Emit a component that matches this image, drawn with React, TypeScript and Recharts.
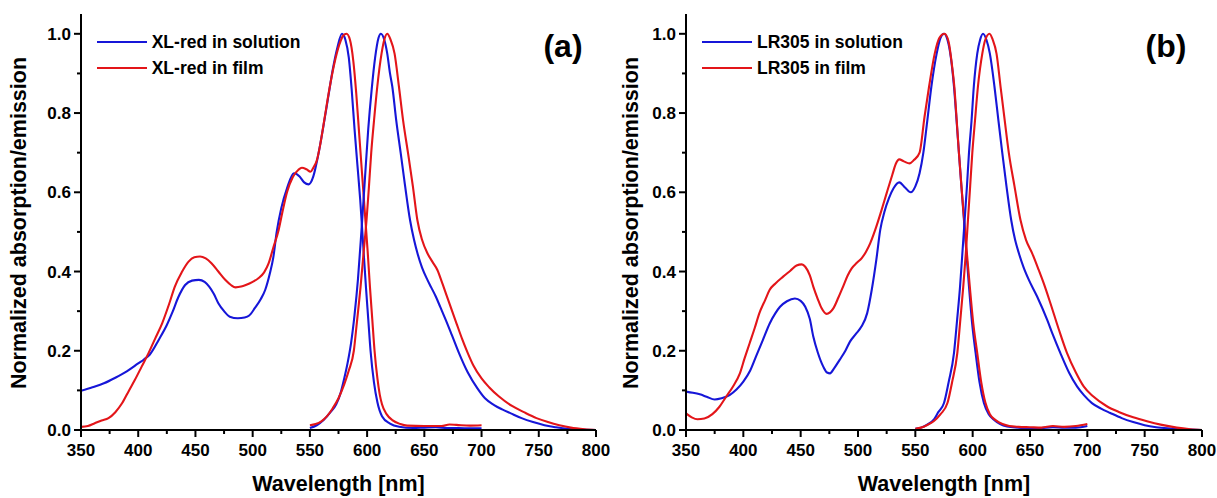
import React from 'react';
import { LineChart, Line, XAxis, YAxis, Legend } from 'recharts';

const BLUE = '#1616d8';
const RED = '#e31519';
const FONT = '"Liberation Sans", Arial, sans-serif';

const xTicks = [350, 375, 400, 425, 450, 475, 500, 525, 550, 575, 600, 625, 650, 675, 700, 725, 750, 775, 800];
const yTicks = [0, 0.1, 0.2, 0.3, 0.4, 0.5, 0.6, 0.7, 0.8, 0.9, 1.0];

const namesA = ['XL-red in solution', 'XL-red in film'];
const namesB = ['LR305 in solution', 'LR305 in film'];
const panelLabels = ['(a)', '(b)'];
const xTitle = 'Wavelength [nm]';
const yTitle = 'Normalized absorption/emission';

type P = [number, number];

// Panel (a): XL-red
const xlSolAbs: P[] = [
  [350, 0.099], [360, 0.108], [370, 0.118], [380, 0.132], [390, 0.148], [400, 0.168], [405, 0.178], [410, 0.19],
  [418, 0.228], [425, 0.265], [430, 0.298], [435, 0.335], [441, 0.366], [447, 0.377], [453, 0.379], [458, 0.374],
  [462, 0.362], [466, 0.344], [470, 0.32], [475, 0.3], [480, 0.286], [487, 0.282], [493, 0.284], [497, 0.289],
  [502, 0.308], [507, 0.33], [511, 0.354], [515, 0.395], [518, 0.435], [521, 0.5], [525, 0.56], [530, 0.61],
  [536, 0.648], [541, 0.64], [545, 0.625], [549, 0.62], [553, 0.64], [557, 0.69], [562, 0.77], [566, 0.84],
  [570, 0.91], [574, 0.965], [578, 1.0], [581, 0.985], [584, 0.94], [586.5, 0.86], [589, 0.76], [591.5, 0.67],
  [594, 0.58], [596.5, 0.47], [599, 0.36], [601, 0.28], [603, 0.2], [606, 0.12], [609, 0.07], [613, 0.035],
  [620, 0.016], [628, 0.008], [640, 0.005], [650, 0.006], [660, 0.007], [670, 0.005], [680, 0.005], [690, 0.004], [700, 0.004],
];
const xlFilmAbs: P[] = [
  [350, 0.008], [356, 0.01], [362, 0.017], [368, 0.024], [374, 0.03], [380, 0.045], [386, 0.068], [392, 0.1],
  [397, 0.126], [403, 0.16], [409, 0.194], [415, 0.232], [421, 0.27], [427, 0.318], [432, 0.362], [438, 0.398],
  [444, 0.425], [449, 0.436], [454, 0.438], [459, 0.433], [464, 0.421], [470, 0.4], [476, 0.379], [481, 0.366],
  [485, 0.36], [490, 0.362], [494, 0.366], [500, 0.374], [505, 0.383], [510, 0.398], [514, 0.421], [518, 0.46],
  [522.7, 0.505], [526, 0.55], [530, 0.6], [535, 0.638], [540, 0.657], [543, 0.662], [547, 0.658], [550.5, 0.652],
  [553, 0.662], [556, 0.68], [559, 0.72], [563, 0.79], [567, 0.86], [571, 0.92], [576, 0.975], [579, 0.995],
  [582, 1.0], [585, 0.985], [588, 0.93], [590.5, 0.85], [593, 0.75], [595.5, 0.65], [598, 0.55], [600.5, 0.45],
  [602.5, 0.36], [604.5, 0.28], [606.5, 0.2], [609, 0.13], [611, 0.09], [613, 0.065], [617, 0.04], [622, 0.025],
  [629, 0.015], [635, 0.011], [650, 0.01], [665, 0.01], [672, 0.014], [678, 0.013], [690, 0.011], [700, 0.012],
];
const xlSolEm: P[] = [
  [550, 0.005], [556, 0.012], [562, 0.025], [568, 0.045], [573, 0.065], [577, 0.095], [580, 0.13], [583, 0.17],
  [586, 0.22], [589, 0.29], [592, 0.38], [595, 0.5], [598, 0.63], [601, 0.76], [604, 0.86], [607, 0.94],
  [610, 0.99], [612, 1.0], [615, 0.985], [617.6, 0.95], [620, 0.9], [622, 0.867], [625.5, 0.78], [629.3, 0.7],
  [633, 0.62], [637.5, 0.53], [641, 0.48], [644, 0.446], [648, 0.41], [652.7, 0.379], [656, 0.36], [660, 0.337],
  [664, 0.31], [668.7, 0.278], [674, 0.24], [680.3, 0.194], [688, 0.145], [696.4, 0.105], [703, 0.08], [711, 0.063],
  [718, 0.052], [725.6, 0.042], [735, 0.03], [745, 0.02], [755, 0.012], [765, 0.007], [775, 0.003], [785, 0.001], [800, 0],
];
const xlFilmEm: P[] = [
  [550, 0.012], [555, 0.015], [560, 0.022], [565, 0.035], [570, 0.055], [575, 0.08], [580, 0.115], [584, 0.15],
  [588.4, 0.2], [591, 0.27], [594.3, 0.362], [597, 0.45], [599.5, 0.53], [601.5, 0.61], [603.6, 0.7], [606, 0.78],
  [608.9, 0.867], [612.6, 0.95], [615, 0.985], [617.6, 1.0], [620.5, 0.985], [624, 0.95], [627.8, 0.867], [631.5, 0.78],
  [635.7, 0.7], [640, 0.615], [643.9, 0.53], [648, 0.48], [652.7, 0.446], [657, 0.425], [661.4, 0.404], [666, 0.368],
  [671.6, 0.322], [678, 0.27], [683, 0.23], [687.7, 0.196], [693, 0.162], [700, 0.13], [706.6, 0.108], [715, 0.085],
  [727, 0.06], [737, 0.045], [748, 0.03], [758, 0.02], [768, 0.012], [778, 0.006], [790, 0.002], [800, 0],
];

// Panel (b): LR305
const lrSolAbs: P[] = [
  [350, 0.097], [356, 0.094], [362, 0.09], [368, 0.084], [375, 0.077], [381, 0.08], [388, 0.088], [394, 0.102],
  [400, 0.122], [406, 0.15], [411, 0.185], [417, 0.227], [423, 0.269], [428, 0.295], [432, 0.311], [438, 0.325],
  [445, 0.332], [450, 0.326], [454, 0.311], [458, 0.28], [461, 0.236], [465, 0.195], [469.7, 0.16], [473, 0.145],
  [475.6, 0.143], [479, 0.155], [484, 0.177], [489, 0.2], [493, 0.223], [498, 0.242], [503, 0.261], [508, 0.295],
  [512, 0.354], [516, 0.43], [519.4, 0.505], [523, 0.55], [527, 0.585], [531, 0.61], [536, 0.625], [541, 0.612],
  [546, 0.6], [550, 0.615], [553.7, 0.648], [557, 0.7], [560, 0.77], [564, 0.867], [568.6, 0.95], [572, 0.99],
  [575, 1.0], [578, 0.985], [581, 0.94], [583.7, 0.867], [586, 0.78], [588, 0.7], [590.2, 0.615], [592.4, 0.53],
  [594.6, 0.445], [596.8, 0.362], [599.5, 0.27], [602.6, 0.194], [606, 0.12], [609.8, 0.068], [614, 0.04], [619, 0.025],
  [624, 0.015], [630, 0.009], [640, 0.006], [650, 0.004], [660, 0.005], [670, 0.007], [680, 0.006], [690, 0.006], [700, 0.01],
];
const lrFilmAbs: P[] = [
  [350, 0.042], [355, 0.032], [360, 0.027], [366, 0.029], [373, 0.04], [379, 0.058], [385, 0.084], [391, 0.11],
  [397, 0.143], [401, 0.18], [405.5, 0.219], [410, 0.258], [414, 0.295], [419, 0.328], [423, 0.354], [428, 0.37],
  [434.7, 0.387], [441, 0.402], [446.4, 0.415], [451, 0.418], [454, 0.412], [458, 0.39], [461, 0.362], [465, 0.33],
  [468.3, 0.307], [472.6, 0.293], [475.5, 0.297], [478.5, 0.307], [483, 0.335], [487, 0.362], [491, 0.39], [494.5, 0.408],
  [499, 0.422], [503.3, 0.434], [507, 0.45], [510.6, 0.471], [515, 0.505], [520, 0.55], [525, 0.598], [530, 0.645],
  [533, 0.672], [536, 0.683], [540, 0.678], [545, 0.673], [549, 0.682], [553.7, 0.7], [558, 0.79], [562, 0.867],
  [566.9, 0.95], [571, 0.99], [575.5, 1.0], [579, 0.98], [582, 0.92], [584, 0.867], [586, 0.785], [588, 0.7],
  [590.2, 0.615], [592.6, 0.53], [595, 0.445], [597.5, 0.362], [600.5, 0.27], [604, 0.194], [607.5, 0.12], [611, 0.07],
  [615, 0.04], [620, 0.025], [626, 0.015], [632, 0.01], [640, 0.008], [650, 0.007], [660, 0.006], [670, 0.01],
  [680, 0.008], [690, 0.01], [700, 0.015],
];
const lrSolEm: P[] = [
  [550, 0.003], [555, 0.006], [560, 0.013], [566.3, 0.027], [570, 0.045], [575, 0.068], [579, 0.12], [583.7, 0.194],
  [586.5, 0.28], [589, 0.362], [591, 0.445], [593, 0.53], [595, 0.615], [596.8, 0.7], [599, 0.78], [601, 0.867],
  [604, 0.95], [606.5, 0.985], [609, 1.0], [612, 0.985], [615, 0.95], [619, 0.867], [622.5, 0.78], [625.8, 0.7],
  [629.5, 0.615], [633.6, 0.53], [637, 0.48], [640.3, 0.446], [644.5, 0.41], [649, 0.379], [656.2, 0.337], [665, 0.278],
  [670, 0.24], [676.5, 0.194], [684, 0.145], [691, 0.11], [697, 0.088], [704, 0.068], [712, 0.054], [720, 0.043],
  [730, 0.03], [740, 0.02], [750, 0.012], [760, 0.007], [770, 0.004], [780, 0.002], [790, 0.001], [800, 0],
];
const lrFilmEm: P[] = [
  [550, 0.003], [555, 0.006], [560, 0.012], [566, 0.022], [572, 0.04], [578, 0.068], [582, 0.12], [586.6, 0.194],
  [589.3, 0.28], [591.8, 0.362], [594, 0.445], [595.9, 0.53], [597.8, 0.615], [599.7, 0.7], [602, 0.78], [604.6, 0.867],
  [608.4, 0.95], [611, 0.985], [614.7, 1.0], [617.5, 0.985], [620.8, 0.95], [624.3, 0.867], [628, 0.78], [631.5, 0.7],
  [636.5, 0.615], [641.7, 0.53], [646.5, 0.48], [651.9, 0.446], [657.6, 0.404], [662, 0.37], [667.8, 0.32], [675, 0.255],
  [682.3, 0.194], [690, 0.145], [696.8, 0.11], [705, 0.085], [717, 0.06], [728, 0.045], [740, 0.032], [752, 0.022],
  [765, 0.013], [778, 0.006], [790, 0.002], [800, 0],
];

const toPts = (a: P[]) => a.map(([x, y]) => ({ x, y }));

const tickText: React.CSSProperties = { fontFamily: FONT, fontWeight: 700, fontSize: 17, fill: '#000' };

const XTick = (props: any) => {
  const { x, y, payload } = props;
  const v = payload.value as number;
  const major = v % 50 === 0;
  return (
    <g>
      <line x1={x} x2={x} y1={y} y2={y + (major ? 7 : 4)} stroke="#000" strokeWidth={2} />
      {major && (
        <text x={x} y={y + 26} textAnchor="middle" style={tickText}>
          {v}
        </text>
      )}
    </g>
  );
};

const YTick = (props: any) => {
  const { x, y, payload } = props;
  const v = payload.value as number;
  const major = Math.round(v * 10) % 2 === 0;
  return (
    <g>
      <line x1={x} x2={x - (major ? 7 : 4)} y1={y} y2={y} stroke="#000" strokeWidth={2} />
      {major && (
        <text x={x - 10} y={y + 6} textAnchor="end" style={tickText}>
          {v.toFixed(1)}
        </text>
      )}
    </g>
  );
};

const LegendBox = ({ names }: { names: string[] }) => {
  const colors = [BLUE, RED];
  return (
    <div style={{ display: 'flex', flexDirection: 'column' }}>
      {names.map((n, i) => (
        <div key={n} style={{ display: 'flex', alignItems: 'center', height: 26.6 }}>
          <svg width={50} height={6} style={{ display: 'block' }}>
            <line x1={0} x2={50} y1={3} y2={3} stroke={colors[i]} strokeWidth={2.2} />
          </svg>
          <span
            style={{
              marginLeft: 5,
              fontFamily: FONT,
              fontWeight: 700,
              fontSize: 17.5,
              color: '#000',
              whiteSpace: 'nowrap',
              lineHeight: '20px',
            }}
          >
            {n}
          </span>
        </div>
      ))}
    </div>
  );
};

type PanelProps = {
  width: number;
  left: number;
  yAxisWidth: number;
  right: number;
  names: string[];
  solAbs: P[];
  filmAbs: P[];
  solEm: P[];
  filmEm: P[];
  legendLeft: number;
};

const lineCommon = { type: 'monotone' as const, strokeWidth: 2.1, dot: false, isAnimationActive: false };

const Panel = (p: PanelProps) => (
  <div style={{ position: 'absolute', left: p.left, top: 0 }}>
    <LineChart width={p.width} height={498} margin={{ top: 14, right: p.right, bottom: 0, left: 0 }}>
      <XAxis
        dataKey="x"
        type="number"
        domain={[350, 800]}
        ticks={xTicks}
        interval={0}
        height={68}
        tickSize={0}
        tickMargin={0}
        tickLine={false}
        axisLine={{ stroke: '#000', strokeWidth: 2 }}
        tick={<XTick />}
        allowDataOverflow
      />
      <XAxis
        xAxisId="top"
        orientation="top"
        dataKey="x"
        type="number"
        domain={[350, 800]}
        height={0}
        tick={false}
        tickLine={false}
        axisLine={{ stroke: '#000', strokeWidth: 2 }}
      />
      <YAxis
        type="number"
        domain={[0, 1.05]}
        ticks={yTicks}
        interval={0}
        width={p.yAxisWidth}
        tickSize={0}
        tickMargin={0}
        tickLine={false}
        axisLine={{ stroke: '#000', strokeWidth: 2 }}
        tick={<YTick />}
        allowDataOverflow
      />
      <YAxis
        yAxisId="right"
        orientation="right"
        type="number"
        domain={[0, 1.05]}
        width={0}
        tick={false}
        tickLine={false}
        axisLine={{ stroke: '#000', strokeWidth: 2 }}
      />
      <Legend
        layout="vertical"
        align="center"
        verticalAlign="middle"
        content={<LegendBox names={p.names} />}
        wrapperStyle={{ left: p.legendLeft, top: 28.4, width: 'auto', height: 'auto' }}
      />
      <Line {...lineCommon} data={toPts(p.solAbs)} dataKey="y" name={p.names[0]} stroke={BLUE} />
      <Line {...lineCommon} data={toPts(p.filmAbs)} dataKey="y" name={p.names[1]} stroke={RED} />
      <Line {...lineCommon} data={toPts(p.solEm)} dataKey="y" name={p.names[0] + ' (emission)'} legendType="none" stroke={BLUE} />
      <Line {...lineCommon} data={toPts(p.filmEm)} dataKey="y" name={p.names[1] + ' (emission)'} legendType="none" stroke={RED} />
    </LineChart>
  </div>
);

const titleStyle: React.CSSProperties = { fontFamily: FONT, fontWeight: 700, fontSize: 21.5, fill: '#000' };
const panelStyle: React.CSSProperties = { fontFamily: FONT, fontWeight: 700, fontSize: 32, fill: '#000' };

export default function App() {
  return (
    <div style={{ position: 'absolute', left: 0, top: 0, width: 1217, height: 498, background: '#fff' }}>
      <Panel width={622} left={0} yAxisWidth={81} right={26} names={namesA}
        solAbs={xlSolAbs} filmAbs={xlFilmAbs} solEm={xlSolEm} filmEm={xlFilmEm} legendLeft={96.7} />
      <Panel width={609} left={608} yAxisWidth={78} right={15} names={namesB}
        solAbs={lrSolAbs} filmAbs={lrFilmAbs} solEm={lrSolEm} filmEm={lrFilmEm} legendLeft={94} />
      <svg width={1217} height={498} style={{ position: 'absolute', left: 0, top: 0, pointerEvents: 'none' }}>
        <text x={338.5} y={491} textAnchor="middle" style={titleStyle}>{xTitle}</text>
        <text x={944} y={491} textAnchor="middle" style={titleStyle}>{xTitle}</text>
        <text x={26} y={223} textAnchor="middle" transform="rotate(-90 26 223)" style={titleStyle}>{yTitle}</text>
        <text x={638} y={223} textAnchor="middle" transform="rotate(-90 638 223)" style={titleStyle}>{yTitle}</text>
        <text x={563} y={57} textAnchor="middle" style={panelStyle}>{panelLabels[0]}</text>
        <text x={1166} y={57} textAnchor="middle" style={panelStyle}>{panelLabels[1]}</text>
      </svg>
    </div>
  );
}
